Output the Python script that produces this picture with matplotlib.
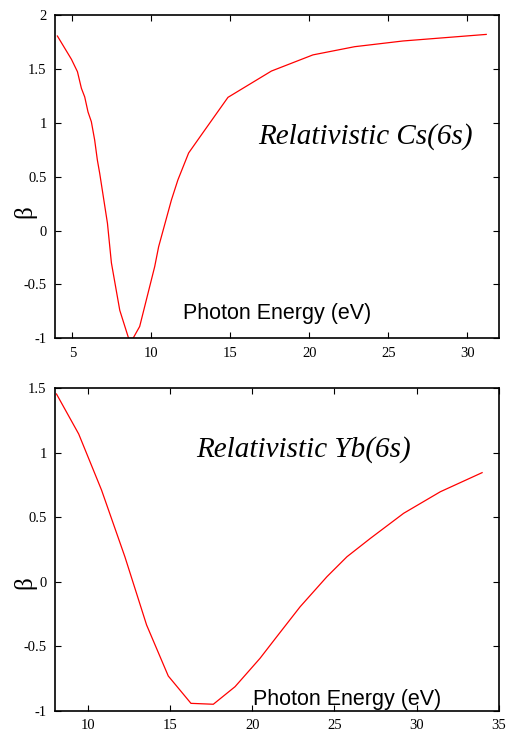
import matplotlib
matplotlib.use('Agg')
from matplotlib import pyplot as plt

# Cs(6s) beta vs photon energy
cs_energy = [4.05, 4.94, 5.32, 5.57, 5.78, 5.99, 6.20, 6.41, 6.58, 6.73, 7.22, 7.47,
             8.00, 8.56, 8.84, 9.26, 10.21, 10.46, 11.27, 11.68, 12.36, 13.37, 14.85,
             17.60, 20.23, 22.87, 25.93, 31.20]
cs_beta = [1.805, 1.589, 1.474, 1.32, 1.24, 1.10, 1.01, 0.84, 0.655, 0.53, 0.067, -0.30,
           -0.74, -1.0, -1.0, -0.89, -0.335, -0.15, 0.284, 0.47, 0.72, 0.93, 1.236,
           1.48, 1.63, 1.706, 1.759, 1.82]

# Yb(6s) beta vs photon energy
yb_energy = [8.09, 9.44, 10.83, 12.25, 13.57, 14.89, 16.27, 17.63, 18.95, 20.47,
             21.49, 22.91, 24.54, 25.76, 27.19, 29.21, 31.44, 33.98]
yb_beta = [1.456, 1.146, 0.711, 0.194, -0.335, -0.731, -0.943, -0.950, -0.814, -0.594,
           -0.426, -0.194, 0.039, 0.194, 0.337, 0.531, 0.698, 0.846]

plt.rcParams['font.family'] = 'Liberation Serif'

W, H = 508, 732
fig = plt.figure(figsize=(W / 100, H / 100), dpi=100)
ax1 = fig.add_axes([0.1083, 0.5378, 0.8737, 0.4417])
ax2 = fig.add_axes([0.1083, 0.0291, 0.8737, 0.4404])


def style(ax, ylab_y):
    ax.tick_params(direction='in', top=True, right=True, labelsize=10.5,
                   length=4, width=0.8, pad=6)
    for s in ax.spines.values():
        s.set_linewidth(1.2)
    ax.set_ylabel('β', fontsize=18, va='center')
    ax.yaxis.set_label_coords(-0.069, ylab_y)


def label(x, y, s, **kw):
    # position given in pixels from the top-left corner
    fig.text(x / W, 1 - y / H, s, ha='center', va='center', **kw)


# top panel
ax1.plot(cs_energy, cs_beta, color='red', lw=0.9)
ax1.set_xlim(3.9, 32)
ax1.set_ylim(-1, 2)
ax1.set_xticks([5, 10, 15, 20, 25, 30])
ax1.set_yticks([-1, -0.5, 0, 0.5, 1, 1.5, 2])
ax1.set_yticklabels(['-1', '-0.5', '0', '0.5', '1', '1.5', '2'])
style(ax1, 0.391)
label(365, 137, 'Relativistic Cs(6s)', fontsize=21, style='italic')
label(277, 314, 'Photon Energy (eV)', fontsize=15.5, family='Liberation Sans')

# bottom panel
ax2.plot(yb_energy, yb_beta, color='red', lw=0.9)
ax2.set_xlim(8, 35)
ax2.set_ylim(-1, 1.5)
ax2.set_xticks([10, 15, 20, 25, 30, 35])
ax2.set_yticks([-1, -0.5, 0, 0.5, 1, 1.5])
ax2.set_yticklabels(['-1', '-0.5', '0', '0.5', '1', '1.5'])
style(ax2, 0.396)
label(304, 450, 'Relativistic Yb(6s)', fontsize=21, style='italic')
label(347, 700, 'Photon Energy (eV)', fontsize=15.5, family='Liberation Sans')

fig.savefig('out.png', dpi=100)
